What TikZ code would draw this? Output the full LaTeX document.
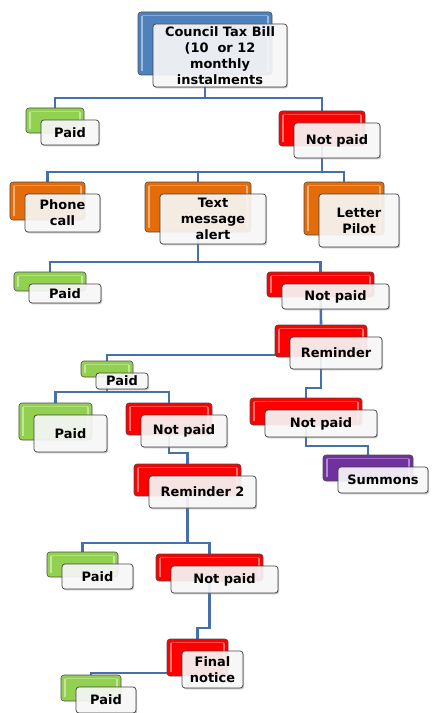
\documentclass[tikz,border=0pt]{standalone}
\usepackage{fontspec}
\setmainfont{DejaVu Sans}
\usetikzlibrary{shadows,backgrounds}
\definecolor{cblue}{RGB}{79,129,189}
\definecolor{cgreen}{RGB}{146,208,80}
\definecolor{cred}{RGB}{255,0,0}
\definecolor{corange}{RGB}{228,108,10}
\definecolor{cpurple}{RGB}{112,48,160}
\definecolor{cline}{RGB}{70,112,172}
\tikzset{
  backbox/.style={rounded corners=3bp, draw=black!70, line width=0.6bp, fill=#1, inner sep=0pt,
    path picture={
      \draw[white, opacity=0.45, line width=1.6bp]
        ([xshift=4bp,yshift=-4bp]path picture bounding box.north west) --
        ([xshift=4bp,yshift=4bp]path picture bounding box.south west);
      \draw[white, opacity=0.45, line width=1.6bp]
        ([xshift=-4bp,yshift=-4bp]path picture bounding box.north east) --
        ([xshift=-4bp,yshift=4bp]path picture bounding box.south east);
      \draw[white, opacity=0.3, line width=1.2bp]
        ([xshift=4bp,yshift=-3.5bp]path picture bounding box.north west) --
        ([xshift=-4bp,yshift=-3.5bp]path picture bounding box.north east);
    }},
  frontbox/.style={rounded corners=3bp, draw=black!75, line width=0.7bp, fill=white,
    fill opacity=0.86, text opacity=1, inner sep=1bp, align=center,
    font=\fontsize{13}{16}\selectfont\bfseries,
    drop shadow={shadow xshift=1.2bp, shadow yshift=-1.4bp, opacity=0.45}},
  conn/.style={draw=cline, line width=2.6bp}
}
\newcommand\pairbox[7]{%
  \pgfmathsetmacro\pbw{#5-#3}\pgfmathsetmacro\pbh{#6-#4}%
  \pgfmathsetmacro\pbx{(#3+#5)/2}\pgfmathsetmacro\pby{(#4+#6)/2}%
  \node[backbox=#2, minimum width=\pbw bp, minimum height=\pbh bp] (b#1) at (\pbx-15,\pby-12) {};
  \node[frontbox, minimum width=\pbw bp, minimum height=\pbh bp] (f#1) at (\pbx,\pby) {#7};
}
\begin{document}
\begin{tikzpicture}[x=1bp,y=-1bp]
\useasboundingbox (0,0) rectangle (431,713);
\clip (0,0) rectangle (431,713);
\pairbox{council}{cblue}{153}{24}{287}{87}{Council Tax Bill\\(10~ or 12\\monthly\\instalments}
\pairbox{paidA}{cgreen}{41}{120}{99}{145}{Paid}
\pairbox{npA}{cred}{294}{123}{380}{158}{Not paid}
\pairbox{phone}{corange}{25}{194}{100}{232}{Phone\\call}
\pairbox{text}{corange}{160}{194}{266}{244}{Text\\message\\alert}
\pairbox{letter}{corange}{319}{194}{399}{247}{Letter\\Pilot}
\pairbox{paidB}{cgreen}{29}{284}{101}{303}{Paid}
\pairbox{npB}{cred}{282}{284}{389}{309}{Not paid}
\pairbox{remA}{cred}{290}{337}{382}{369}{Reminder}
\pairbox{paidC}{cgreen}{96}{373}{148}{389}{Paid}
\pairbox{paidD}{cgreen}{34}{415}{107}{452}{Paid}
\pairbox{npC}{cred}{141}{415}{227}{447}{Not paid}
\pairbox{npD}{cred}{265}{410}{377}{437}{Not paid}
\pairbox{remB}{cred}{149}{476}{256}{508}{Reminder 2}
\pairbox{summ}{cpurple}{338}{467}{428}{493}{Summons}
\pairbox{paidE}{cgreen}{62}{564}{133}{589}{Paid}
\pairbox{npE}{cred}{171}{566}{278}{593}{Not paid}
\pairbox{final}{cred}{182}{651}{243}{688}{Final\\notice}
\pairbox{paidF}{cgreen}{76}{687}{136}{713}{Paid}
\coordinate (j1) at (0,98);
\coordinate (j2) at (0,172);
\coordinate (j3) at (0,262);
\coordinate (j4) at (0,355);
\coordinate (j5) at (0,392);
\coordinate (j6) at (0,388);
\coordinate (j7) at (0,453);
\coordinate (j8) at (0,446);
\coordinate (j9) at (0,543);
\coordinate (j10) at (0,628);
\coordinate (j11) at (0,673);
\begin{pgfonlayer}{background}
\draw[conn] (bcouncil.center) -- (bcouncil.center |- j1) -| (bpaidA.north);
\draw[conn] (bcouncil.center) -- (bcouncil.center |- j1) -| (bnpA.north);
\draw[conn] (bnpA.center) -- (bnpA.center |- j2) -| (bphone.north);
\draw[conn] (bnpA.center) -- (bnpA.center |- j2) -| (btext.north);
\draw[conn] (bnpA.center) -- (bnpA.center |- j2) -| (bletter.north);
\draw[conn] (btext.center) -- (btext.center |- j3) -| (bpaidB.north);
\draw[conn] (btext.center) -- (btext.center |- j3) -| (bnpB.north);
\draw[conn] (bnpB.center) -- (bremA.north);
\draw[conn] (bremA.center) -- (bremA.center |- j4) -| (bpaidC.north);
\draw[conn] (bremA.center) -- (bremA.center |- j6) -| (bnpD.north);
\draw[conn] (bpaidC.center) -- (bpaidC.center |- j5) -| (bpaidD.north);
\draw[conn] (bpaidC.center) -- (bpaidC.center |- j5) -| (bnpC.north);
\draw[conn] (bnpC.center) -- (bnpC.center |- j7) -| (bremB.north);
\draw[conn] (bnpD.center) -- (bnpD.center |- j8) -| (bsumm.north);
\draw[conn] (bremB.center) -- (bremB.center |- j9) -| (bpaidE.north);
\draw[conn] (bremB.center) -- (bremB.center |- j9) -| (bnpE.north);
\draw[conn] (bnpE.center) -- (bnpE.center |- j10) -| (bfinal.north);
\draw[conn] (bfinal.center) -- (bfinal.center |- j11) -| (bpaidF.north);
\end{pgfonlayer}
\end{tikzpicture}
\end{document}
